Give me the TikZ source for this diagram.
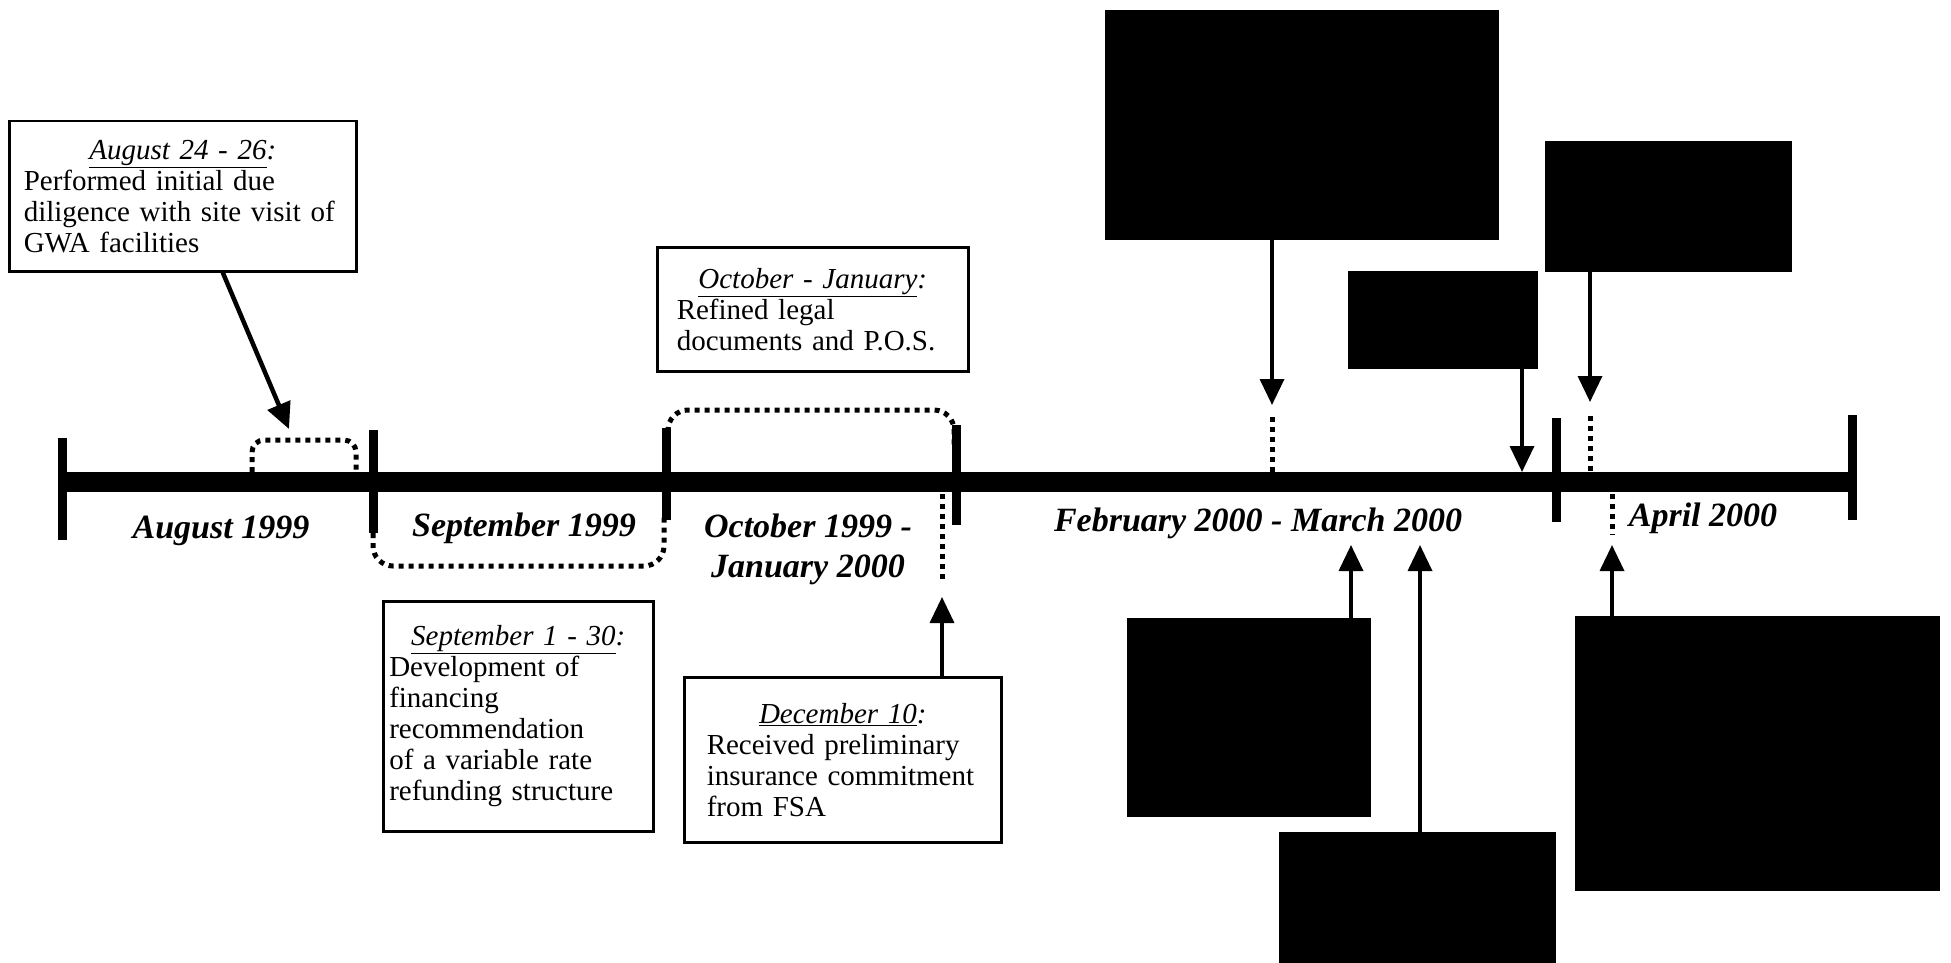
\documentclass[tikz,border=0pt]{standalone}
\usepackage{fontspec}
\setmainfont{Liberation Serif}
\usetikzlibrary{arrows.meta}
\hyphenpenalty=10000

\tikzset{
  notebox/.style={draw, line width=2.5pt, anchor=north west, align=left,
    inner sep=0pt, font=\fontsize{29}{31}\selectfont},
  blackbox/.style={fill=black, anchor=north west, inner sep=0pt},
  monthlabel/.style={align=center, font=\fontsize{34}{40}\selectfont\bfseries\itshape},
  pointer/.style={line width=3.5pt, -{Triangle[width=24pt,length=26pt]}},
  dotline/.style={line width=5pt, dash pattern=on 5pt off 5pt},
  monthtick/.style={line width=9pt},
}
\newcommand{\notetitle}[1]{\makebox[\linewidth][c]{\itshape\underline{#1}:}\\}

\begin{document}
\begin{tikzpicture}[x=1pt, y=-1pt]
\useasboundingbox (0,0) rectangle (1951,963);

% Time line
\coordinate (start) at (62,482);
\coordinate (finish) at (1852,482);
\draw[line width=20pt] (start) -- (finish);

% Month ticks
\foreach \x/\ya/\yb in {62/438/540, 373/430/533, 666/428/520,
                        956/425/525, 1556/418/522, 1852/415/520}
  \draw[monthtick] (\x,\ya) -- (\x,\yb);

% Month labels
\node[monthlabel] (aug99) at (221,531) {August 1999};
\node[monthlabel] (sep99) at (524,528) {September 1999};
\node[monthlabel] (oct99) at (808,549) {October 1999 -\\January 2000};
\node[monthlabel] (feb00) at (1258,523) {February 2000 - March 2000};
\node[monthlabel] (apr00) at (1703,518) {April 2000};

% Brackets
\draw[dotline, rounded corners=12pt] (252,472) -- (252,440) -- (356,440) -- (356,472);
\draw[dotline, rounded corners=20pt] (373,533) -- (373,566) -- (664,566) -- (664,516);
\draw[dotline, rounded corners=20pt] (668,432) -- (668,410) -- (954,410) -- (954,445);

% August note
\node[notebox,
	minimum width=347pt,
	minimum height=150pt,
	text width=318pt] (aug) at (8,120)
	{\notetitle{August 24 - 26}Performed initial due\\diligence with site visit of\\GWA facilities};
\coordinate (augmark) at (289,429);
\draw[pointer, line width=4.5pt] ([xshift=40pt]aug.south) -- (augmark);

% September note
\node[notebox,
	minimum width=270pt,
	minimum height=230pt,
	text width=258pt] (sep) at (382,600)
	{\notetitle{September 1 - 30}Development of\\financing\\recommendation\\of a variable rate\\refunding structure};

% October note
\node[notebox,
	minimum width=311pt,
	minimum height=124pt,
	text width=272pt] (oct) at (656,246)
	{\notetitle{October - January}Refined legal\\documents and P.O.S.};

% December note
\node[notebox,
	minimum width=317pt,
	minimum height=165pt,
	text width=272pt] (dec) at (683,676)
	{\notetitle{December 10}Received preliminary\\insurance commitment\\from FSA};
\coordinate (decmark) at (942,597);
\draw[dotline] (942,494) -- (942,580);
\draw[pointer] (dec.north -| decmark) -- (decmark);

% Blacked out notes above
\node[blackbox, minimum width=394pt, minimum height=230pt] (febtop) at (1105,10) {};
\node[blackbox, minimum width=190pt, minimum height=98pt] (marend) at (1348,271) {};
\node[blackbox, minimum width=247pt, minimum height=131pt] (aprtop) at (1545,141) {};

\coordinate (febmark) at (1272,405);
\draw[pointer] (febtop.south -| febmark) -- (febmark);
\draw[dotline] (1272,417) -- (1272,472);

\coordinate (endmark) at (1522,472);
\draw[pointer] (marend.south -| endmark) -- (endmark);

\coordinate (aprmark) at (1590,402);
\draw[pointer] (aprtop.south -| aprmark) -- (aprmark);
\draw[dotline] (1590,416) -- (1590,472);

% Blacked out notes below
\node[blackbox, minimum width=244pt, minimum height=199pt] (febone) at (1127,618) {};
\node[blackbox, minimum width=277pt, minimum height=140pt] (febtwo) at (1279,832) {};
\node[blackbox, minimum width=365pt, minimum height=275pt] (aprlow) at (1575,616) {};

\coordinate (febonemark) at (1351,545);
\draw[pointer] (febone.north -| febonemark) -- (febonemark);

\coordinate (febtwomark) at (1420,545);
\draw[pointer] (febtwo.north -| febtwomark) -- (febtwomark);

\coordinate (aprlowmark) at (1612,545);
\draw[pointer] (aprlow.north -| aprlowmark) -- (aprlowmark);
\draw[dotline] (1612,494) -- (1612,535);

\end{tikzpicture}
\end{document}
